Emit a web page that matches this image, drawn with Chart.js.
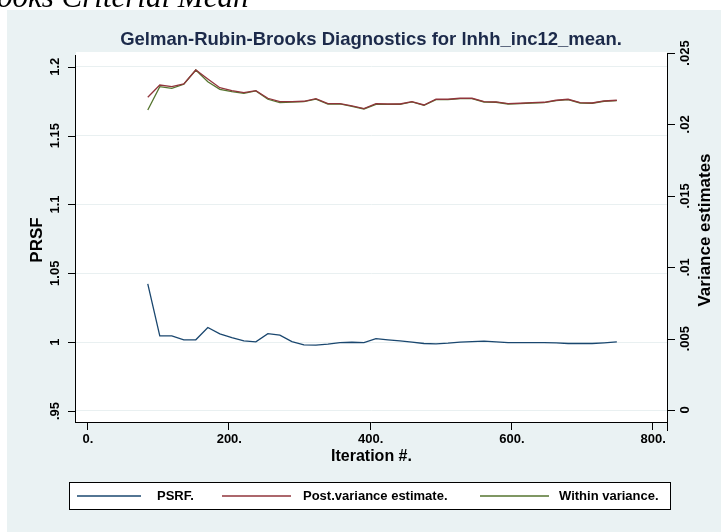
<!DOCTYPE html>
<html>
<head>
<meta charset="utf-8">
<script src="https://cdn.jsdelivr.net/npm/chart.js@4.4.1/dist/chart.umd.min.js"></script>
<style>
  html, body { margin: 0; padding: 0; background: #fff; }
  #wrap { position: relative; width: 721px; height: 532px; overflow: hidden; }
  #cut { position: absolute; left: -3px; top: -21px; z-index: 2; white-space: nowrap;
         font: italic 31px "Liberation Serif", "DejaVu Serif", serif; color: #000; }
  canvas { position: absolute; left: 0; top: 0; }
</style>
</head>
<body>
<div id="wrap">
  <div id="cut">ooks Criterial Mean</div>
  <canvas id="myChart" width="721" height="532"></canvas>
</div>
<script>
// iteration numbers where the diagnostics were computed
const iterations = [86, 103, 120, 137, 154, 171, 188, 205, 222, 239,
    256, 273, 290, 307, 324, 341, 358, 375, 392, 409,
    426, 443, 460, 477, 494, 511, 528, 545, 562, 579,
    596, 613, 630, 647, 664, 681, 698, 715, 732, 750];

const psrf = [1.0423, 1.0046, 1.0046, 1.0017, 1.0017, 1.0106, 1.0060, 1.0033, 1.0009, 1.0002,
    1.0062, 1.0051, 1.0004, 0.9980, 0.9978, 0.9985, 0.9997, 0.9999, 0.9997, 1.0026,
    1.0017, 1.0009, 1.0000, 0.9990, 0.9988, 0.9993, 1.0000, 1.0004, 1.0007, 1.0002,
    0.9997, 0.9997, 0.9997, 0.9997, 0.9995, 0.9990, 0.9990, 0.9990, 0.9995, 1.0002];

const postVariance = [0.02190, 0.02276, 0.02264, 0.02283, 0.02381, 0.02318, 0.02257, 0.02236, 0.02222, 0.02236,
    0.02183, 0.02159, 0.02159, 0.02162, 0.02180, 0.02145, 0.02145, 0.02129, 0.02110, 0.02145,
    0.02143, 0.02143, 0.02159, 0.02136, 0.02176, 0.02176, 0.02183, 0.02183, 0.02159, 0.02157,
    0.02145, 0.02148, 0.02152, 0.02155, 0.02169, 0.02176, 0.02152, 0.02150, 0.02164, 0.02169];

const withinVariance = [0.02101, 0.02264, 0.02253, 0.02281, 0.02381, 0.02299, 0.02246, 0.02229, 0.02218, 0.02234,
    0.02176, 0.02152, 0.02156, 0.02160, 0.02177, 0.02142, 0.02143, 0.02127, 0.02108, 0.02140,
    0.02140, 0.02141, 0.02157, 0.02134, 0.02174, 0.02174, 0.02181, 0.02181, 0.02157, 0.02155,
    0.02143, 0.02146, 0.02150, 0.02153, 0.02167, 0.02174, 0.02150, 0.02148, 0.02162, 0.02167];

const seriesNames = ['PSRF.', 'Post.variance estimate.', 'Within variance.'];
const xTicks = [0, 200, 400, 600, 800];
const xTickLabels = ['0.', '200.', '400.', '600.', '800.'];
const psrfTicks = [0.95, 1, 1.05, 1.1, 1.15, 1.2];
const psrfTickLabels = ['.95', '1', '1.05', '1.1', '1.15', '1.2'];
const varTicks = [0, 0.005, 0.01, 0.015, 0.02, 0.025];
const varTickLabels = ['0', '.005', '.01', '.015', '.02', '.025'];

const colors = ['#1a476f', '#90353b', '#55752f'];
const FONT = '"Liberation Sans", Arial, sans-serif';

function pairs(values) {
    return iterations.map((x, i) => ({ x: x, y: values[i] }));
}

function rotText(ctx, text, x, y) {
    ctx.save();
    ctx.translate(x, y);
    ctx.rotate(-Math.PI / 2);
    ctx.fillText(text, 0, 0);
    ctx.restore();
}

// stata-like frame, axes, title and legend
const stataFrame = {
    id: 'stataFrame',
    beforeDraw(chart) {
        const { ctx, chartArea: a } = chart;
        ctx.save();
        ctx.fillStyle = '#eaf2f3';
        ctx.fillRect(7, 10, chart.width - 7, chart.height - 10);
        ctx.fillStyle = '#ffffff';
        ctx.fillRect(a.left, a.top, a.right - a.left, a.bottom - a.top);
        ctx.restore();
    },
    afterDraw(chart) {
        const { ctx, chartArea: a, scales } = chart;
        const xs = scales.x, yl = scales.y, yr = scales.y1;
        ctx.save();
        ctx.strokeStyle = '#000';
        ctx.fillStyle = '#000';
        ctx.lineWidth = 1;

        // left axis
        ctx.beginPath();
        ctx.moveTo(a.left - 0.5, yl.getPixelForValue(1.2085));
        ctx.lineTo(a.left - 0.5, a.bottom);
        psrfTicks.forEach(v => {
            const y = Math.round(yl.getPixelForValue(v)) + 0.5;
            ctx.moveTo(a.left - 8, y);
            ctx.lineTo(a.left, y);
        });
        ctx.stroke();
        ctx.font = 'bold 13px ' + FONT;
        ctx.textAlign = 'center';
        ctx.textBaseline = 'middle';
        psrfTicks.forEach((v, i) => rotText(ctx, psrfTickLabels[i], 55, yl.getPixelForValue(v)));
        ctx.font = 'bold 17px ' + FONT;
        rotText(ctx, 'PRSF', 37, 240);

        // right axis
        ctx.beginPath();
        ctx.moveTo(a.right + 0.5, yr.getPixelForValue(0.025));
        ctx.lineTo(a.right + 0.5, a.bottom + 9);
        varTicks.forEach(v => {
            const y = Math.round(yr.getPixelForValue(v)) + 0.5;
            ctx.moveTo(a.right, y);
            ctx.lineTo(a.right + 8, y);
        });
        ctx.stroke();
        ctx.font = 'bold 13px ' + FONT;
        varTicks.forEach((v, i) => rotText(ctx, varTickLabels[i], 685, yr.getPixelForValue(v)));
        ctx.font = 'bold 17px ' + FONT;
        rotText(ctx, 'Variance estimates', 705, 230);

        // bottom axis
        ctx.beginPath();
        ctx.moveTo(a.left - 1, a.bottom + 0.5);
        ctx.lineTo(a.right + 1, a.bottom + 0.5);
        xTicks.forEach(v => {
            const x = Math.round(xs.getPixelForValue(v)) + 0.5;
            ctx.moveTo(x, a.bottom);
            ctx.lineTo(x, a.bottom + 8);
        });
        ctx.stroke();
        ctx.font = 'bold 13px ' + FONT;
        xTicks.forEach((v, i) => ctx.fillText(xTickLabels[i], xs.getPixelForValue(v) + 1, 439));
        ctx.font = 'bold 16px ' + FONT;
        ctx.fillText('Iteration #.', (a.left + a.right) / 2, 457);

        // title
        ctx.fillStyle = '#1c2a4a';
        ctx.font = 'bold 18.5px ' + FONT;
        ctx.fillText('Gelman-Rubin-Brooks Diagnostics for lnhh_inc12_mean.', 371, 40);

        // legend
        ctx.fillStyle = '#fff';
        ctx.fillRect(69, 482, 601, 27);
        ctx.strokeStyle = '#000';
        ctx.strokeRect(69.5, 482.5, 601, 27);
        const items = [[77, 141, 157], [222, 291, 303], [480, 549, 559]];
        ctx.font = 'bold 13px ' + FONT;
        ctx.textAlign = 'left';
        chart.data.datasets.forEach((ds, i) => {
            const [x0, x1, tx] = items[i];
            ctx.strokeStyle = ds.borderColor;
            ctx.lineWidth = 1.3;
            ctx.beginPath();
            ctx.moveTo(x0, 496);
            ctx.lineTo(x1, 496);
            ctx.stroke();
            ctx.fillStyle = '#000';
            ctx.fillText(ds.label, tx, 496);
        });
        ctx.restore();
    }
};

const ctx = document.getElementById('myChart').getContext('2d');
new Chart(ctx, {
    type: 'line',
    data: {
        datasets: [{
            label: seriesNames[0],
            data: pairs(psrf),
            yAxisID: 'y',
            borderColor: colors[0],
            borderWidth: 1.3,
            pointRadius: 0,
            tension: 0
        }, {
            label: seriesNames[1],
            data: pairs(postVariance),
            yAxisID: 'y1',
            borderColor: colors[1],
            borderWidth: 1.3,
            pointRadius: 0,
            tension: 0
        }, {
            label: seriesNames[2],
            data: pairs(withinVariance),
            yAxisID: 'y1',
            borderColor: colors[2],
            borderWidth: 1.3,
            pointRadius: 0,
            tension: 0
        }]
    },
    options: {
        responsive: false,
        animation: false,
        layout: { padding: { left: 76, right: 54, top: 52, bottom: 110 } },
        plugins: {
            legend: { display: false },
            tooltip: { enabled: false }
        },
        scales: {
            x: {
                type: 'linear',
                min: -15.6,
                max: 821,
                afterBuildTicks: s => { s.ticks = xTicks.map(v => ({ value: v })); },
                afterFit: s => { s.height = 0; },
                ticks: { display: false },
                grid: { display: false },
                border: { display: false }
            },
            y: {
                position: 'left',
                min: 0.942,
                max: 1.2107,
                afterBuildTicks: s => { s.ticks = psrfTicks.map(v => ({ value: v })); },
                afterFit: s => { s.width = 0; },
                ticks: { display: false },
                grid: { color: '#e9f0f1', lineWidth: 1, drawTicks: false },
                border: { display: false }
            },
            y1: {
                position: 'right',
                min: -0.00084,
                max: 0.02507,
                afterBuildTicks: s => { s.ticks = varTicks.map(v => ({ value: v })); },
                afterFit: s => { s.width = 0; },
                ticks: { display: false },
                grid: { display: false },
                border: { display: false }
            }
        }
    },
    plugins: [stataFrame]
});
</script>
</body>
</html>
